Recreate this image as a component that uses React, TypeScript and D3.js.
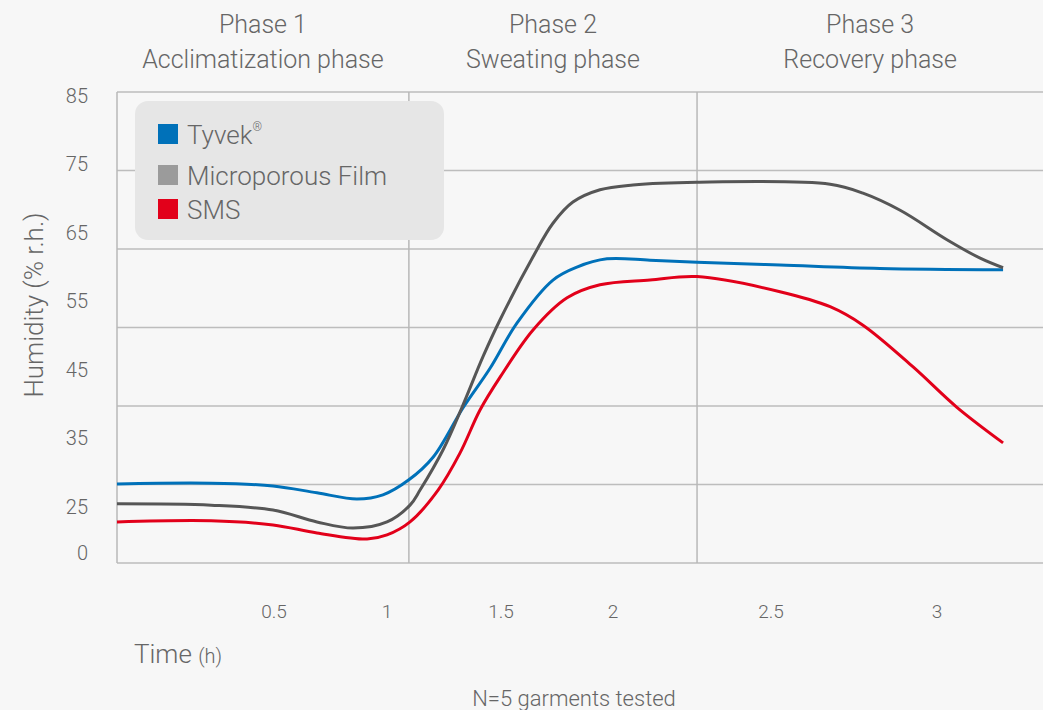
import React from "react";
import * as d3 from "d3";

// ---- data ----
const seriesNames = ["Tyvek", "Microporous Film", "SMS"];
const seriesColors = ["#0071b9", "#565656", "#e2001a"];
const legendColors = ["#0071b9", "#9b9b9b", "#e2001a"];

const tyvekT = [0, 0.3, 0.497, 0.69, 0.867, 0.982, 1.096, 1.202, 1.333, 1.452, 1.571, 1.732, 1.839, 1.973, 2.117, 2.266, 2.527, 2.828, 3.199];
const tyvekH = [28.3, 28.4, 28.0, 27.0, 26.1, 26.7, 28.9, 32.2, 39.4, 45.2, 51.8, 58.1, 60.0, 61.2, 61.0, 60.7, 60.3, 59.8, 59.6];

const filmT = [0, 0.3, 0.497, 0.69, 0.85, 1.0, 1.101, 1.145, 1.246, 1.329, 1.421, 1.496, 1.643, 1.732, 1.821, 1.942, 2.063, 2.266, 2.678, 2.777, 2.889, 3.03, 3.13, 3.199];
const filmH = [25.4, 25.2, 23.1, 16.7, 13.4, 16.7, 25.2, 27.4, 33.3, 39.5, 46.9, 52.3, 61.5, 66.4, 69.5, 71.3, 72.0, 72.4, 72.1, 70.8, 68.3, 64.0, 61.3, 59.9];

const smsT = [0, 0.3, 0.497, 0.69, 0.912, 1.0, 1.101, 1.224, 1.32, 1.408, 1.496, 1.643, 1.795, 1.942, 2.117, 2.266, 2.527, 2.678, 2.777, 2.928, 3.06, 3.199];
const smsH = [16.7, 17.3, 15.1, 10.8, 7.5, 9.7, 16.7, 27.4, 32.8, 39.1, 43.9, 50.8, 55.5, 57.4, 58.1, 58.6, 56.4, 54.2, 51.5, 45.4, 39.5, 34.3];

const xTickValues = [0.5, 1, 1.5, 2, 2.5, 3];
const xTickLabels = ["0.5", "1", "1.5", "2", "2.5", "3"];
const yTickValues = [0, 25, 35, 45, 55, 65, 75, 85];

const phaseBounds = [0, 1.096, 2.266, 3.32];
const phaseTitles = ["Phase 1", "Phase 2", "Phase 3"];
const phaseSubtitles = ["Acclimatization phase", "Sweating phase", "Recovery phase"];

const gridRows = d3.range(7);

// ---- layout ----
const W = 1043;
const H = 710;
const plotTop = 92;
const plotBottom = 563;

const x = d3
  .scaleLinear()
  .domain([0, 0.5, 1, 1.5, 2, 2.5, 3])
  .range([117, 274, 387, 501, 613, 771, 937]);
const y = d3.scaleLinear().domain([0, 25, 85]).range([553, 506.5, 96]);
const gy = d3.scaleLinear().domain([0, 6]).range([plotBottom, plotTop]);

const FONT = "Roboto, 'Open Sans', sans-serif";
const TXT = "#666";

export default function App() {
  const series = [
    tyvekT.map((t, i) => [t, tyvekH[i]] as [number, number]),
    filmT.map((t, i) => [t, filmH[i]] as [number, number]),
    smsT.map((t, i) => [t, smsH[i]] as [number, number]),
  ];
  const line = d3
    .line<[number, number]>()
    .x((d) => x(d[0]))
    .y((d) => y(d[1]))
    .curve(d3.curveCatmullRom.alpha(0.5));

  const xLeft = x(0);
  const xRight = x(3.32);

  return (
    <div style={{ position: "absolute", left: 0, top: 0 }}>
      <svg width={W} height={H} style={{ display: "block", background: "#f7f7f7" }} fontFamily={FONT}>
        <rect x={0} y={0} width={W} height={H} fill="#f7f7f7" />
        {/* horizontal grid */}
        {gridRows.map((r) => (
          <line key={"g" + r} x1={xLeft} x2={xRight} y1={gy(r)} y2={gy(r)} stroke="#bdbdbd" strokeWidth={1.5} />
        ))}
        {/* vertical lines: left axis and phase bounds */}
        {phaseBounds.slice(0, 3).map((b, i) => (
          <line key={"v" + i} x1={x(b)} x2={x(b)} y1={plotTop} y2={plotBottom} stroke="#b8b8b8" strokeWidth={1.5} />
        ))}
        {/* phase titles */}
        {phaseTitles.map((p, i) => {
          const cx = (x(phaseBounds[i]) + x(phaseBounds[i + 1])) / 2;
          return (
            <g key={"p" + i} fill={TXT} fontSize={25} fontWeight={300} textAnchor="middle">
              <text x={cx} y={33}>{p}</text>
              <text x={cx} y={68}>{phaseSubtitles[i]}</text>
            </g>
          );
        })}
        {/* legend */}
        <rect x={135} y={101} width={309} height={139} rx={13} fill="#e6e6e6" />
        {[
          { sq: 124, base: 144 },
          { sq: 165, base: 185 },
          { sq: 199, base: 219 },
        ].map((l, i) => (
          <g key={"l" + i}>
            <rect x={158} y={l.sq} width={20} height={20} fill={legendColors[i]} />
            <text x={187} y={l.base} fontSize={26} fontWeight={300} fill={TXT}>
              {seriesNames[i]}
              {i === 0 ? (
                <tspan fontSize={12} dy={-13}>®</tspan>
              ) : null}
            </text>
          </g>
        ))}
        {/* series */}
        {series.map((s, i) => (
          <path key={"s" + i} d={line(s) || ""} fill="none" stroke={seriesColors[i]} strokeWidth={3} strokeLinejoin="round" />
        ))}
        {/* y ticks */}
        {yTickValues.map((v) => (
          <text key={"yt" + v} x={88} y={y(v)} dy="0.35em" textAnchor="end" fontSize={20} fontWeight={300} fill={TXT}>
            {v}
          </text>
        ))}
        {/* y title */}
        <text
          transform={`translate(43,305) rotate(-90)`}
          textAnchor="middle"
          fontSize={26}
          fontWeight={300}
          fill={TXT}
        >
          Humidity (% r.h.)
        </text>
        {/* x ticks */}
        {xTickValues.map((v, i) => (
          <text key={"xt" + v} x={x(v)} y={618} textAnchor="middle" fontSize={19} fontWeight={300} fill={TXT}>
            {xTickLabels[i]}
          </text>
        ))}
        {/* x title */}
        <text x={134} y={663} fontSize={26} fontWeight={300} fill={TXT}>
          Time <tspan fontSize={20}>(h)</tspan>
        </text>
        <text x={574} y={706} textAnchor="middle" fontSize={22} fontWeight={300} fill={TXT}>
          N=5 garments tested
        </text>
      </svg>
    </div>
  );
}
